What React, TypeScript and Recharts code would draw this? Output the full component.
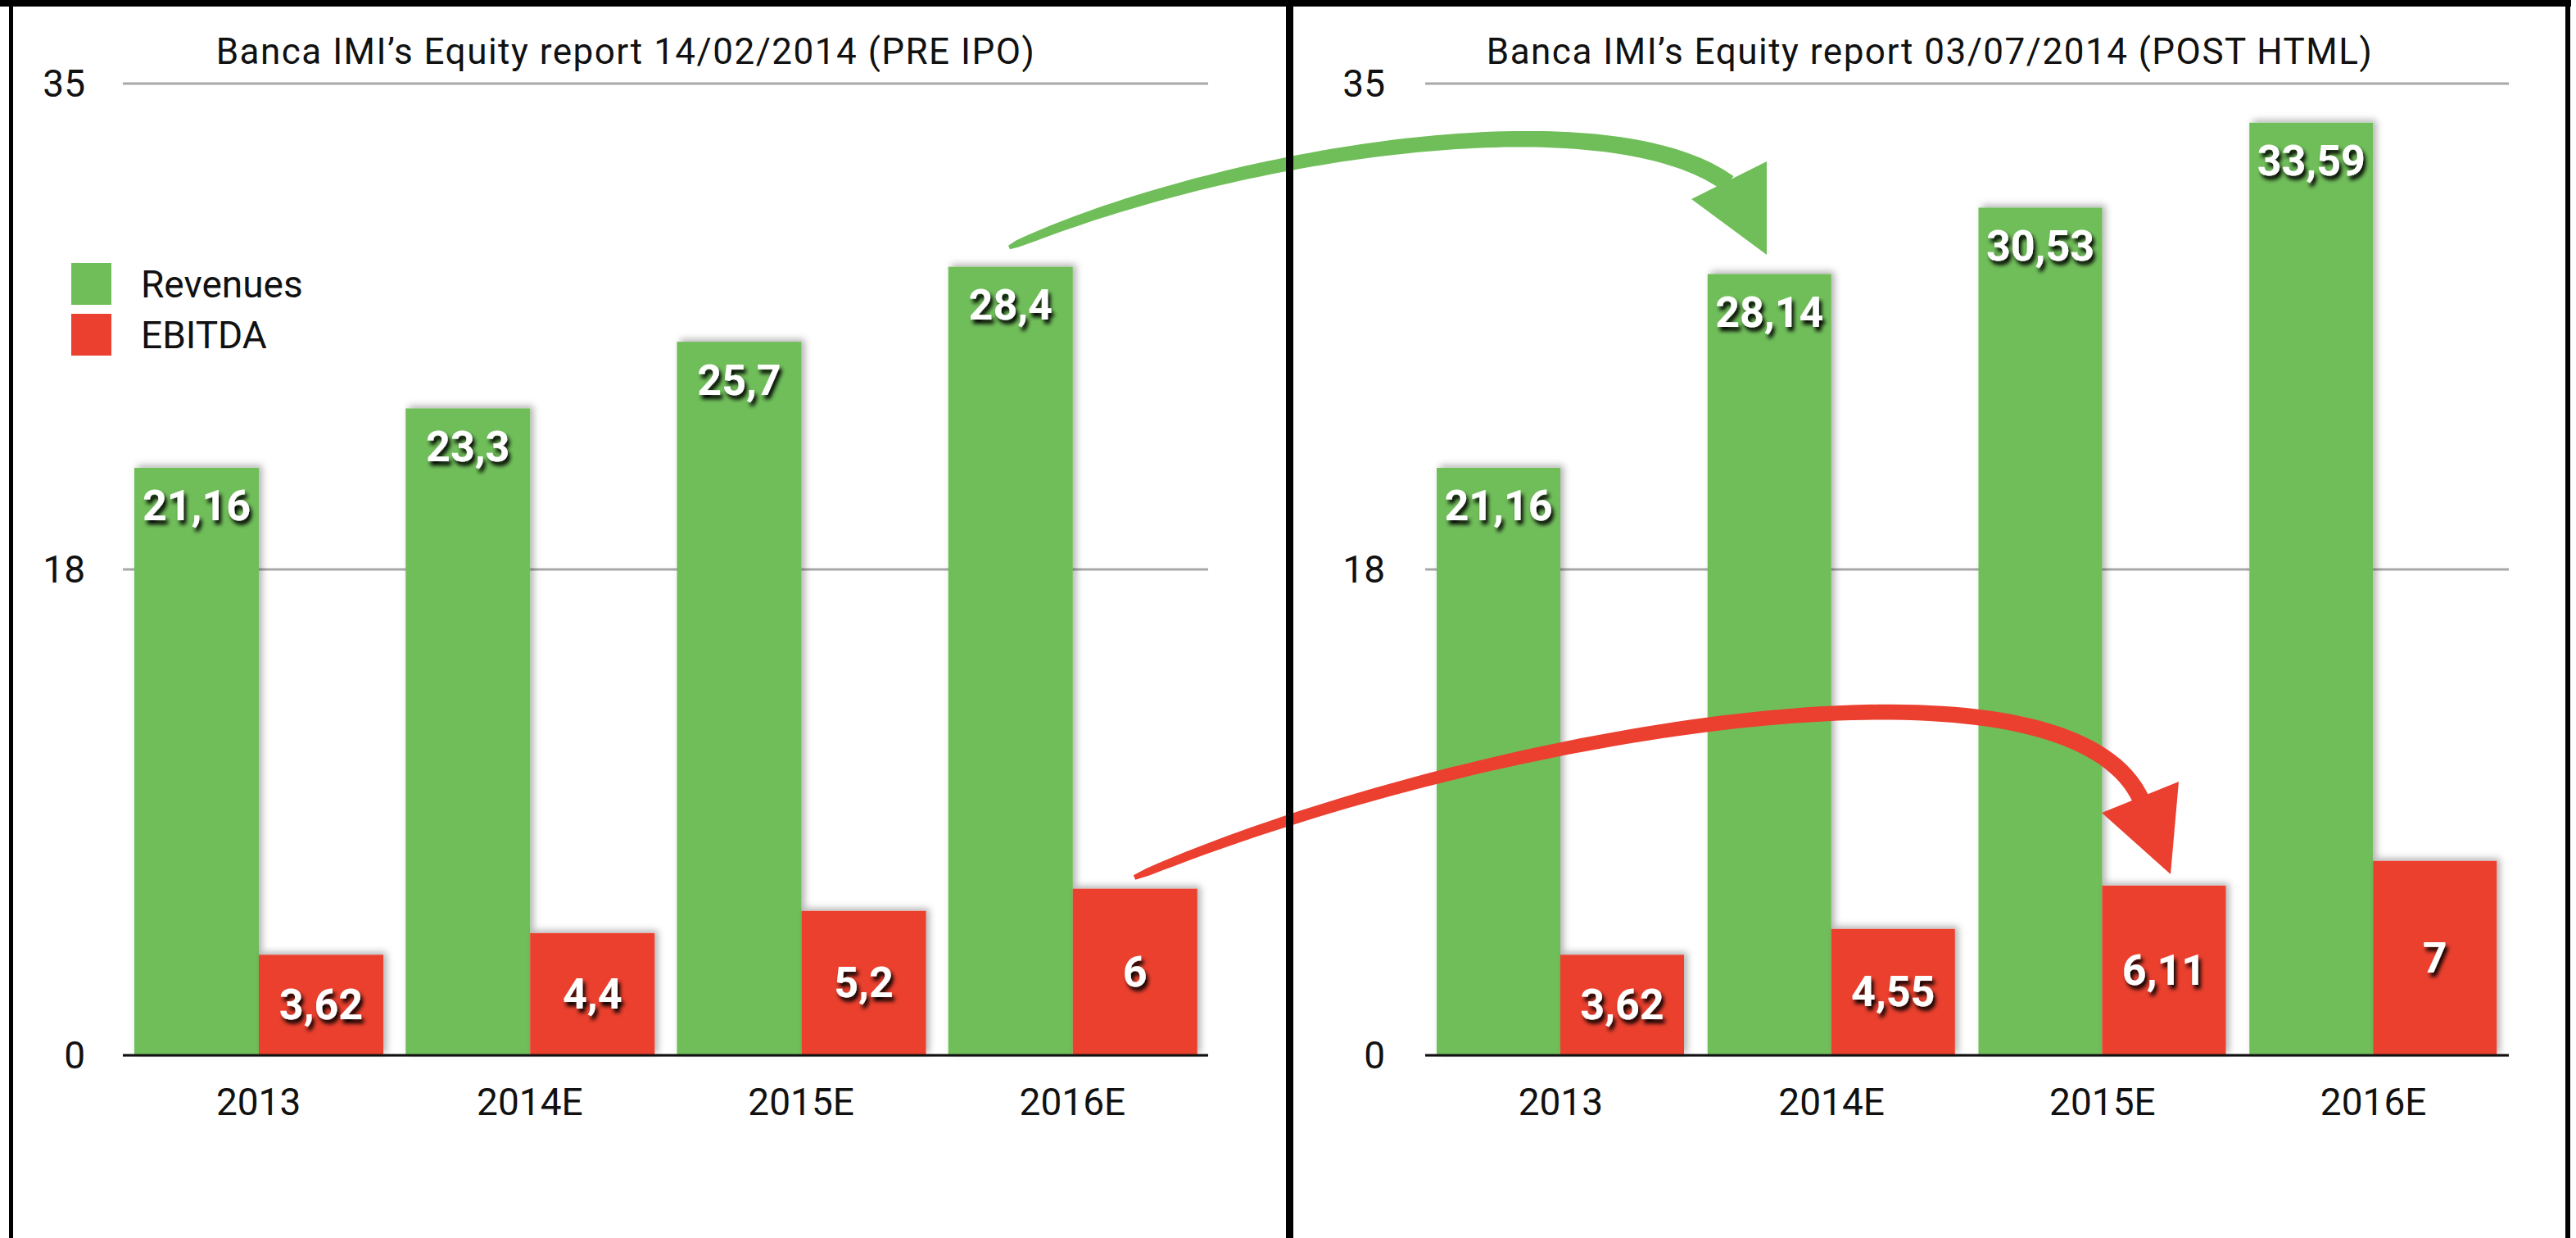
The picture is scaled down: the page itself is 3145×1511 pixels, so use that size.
import React from "react";
import { BarChart, Bar, XAxis, YAxis, CartesianGrid, LabelList } from "recharts";

const GREEN = "#70BE5A";
const RED = "#EB3F2F";
const FONT = "Roboto, 'Open Sans', sans-serif";

const years = ["2013", "2014E", "2015E", "2016E"];
const revenuesPre = [21.16, 23.3, 25.7, 28.4];
const ebitdaPre = [3.62, 4.4, 5.2, 6];
const revenuesPost = [21.16, 28.14, 30.53, 33.59];
const ebitdaPost = [3.62, 4.55, 6.11, 7];
const yTicks = [0, 17.5, 35];

const titlePre = "Banca IMI’s Equity report 14/02/2014 (PRE IPO)";
const titlePost = "Banca IMI’s Equity report 03/07/2014 (POST HTML)";

const toRows = (rev: number[], ebitda: number[]) =>
  years.map((year, i) => ({ year, revenues: rev[i], ebitda: ebitda[i] }));

// italian style decimals
const fmt = (v: number) => String(v).replace(".", ",");

const box = (props: any) => {
  const vb = props.viewBox ?? props;
  return { x: Number(vb.x), y: Number(vb.y), w: Number(vb.width), h: Number(vb.height) };
};

const labelStyle = {
  fill: "#fff",
  fontSize: 52,
  fontWeight: 700,
  fontFamily: FONT,
};

const TopLabel = (props: any) => {
  const { x, y, w } = box(props);
  return (
    <text x={x + w / 2} y={y + 47} textAnchor="middle" dominantBaseline="central" filter="url(#txtShadow)" style={labelStyle}>
      {fmt(props.value)}
    </text>
  );
};

const MidLabel = (props: any) => {
  const { x, y, w, h } = box(props);
  return (
    <text x={x + w / 2} y={y + h / 2} textAnchor="middle" dominantBaseline="central" filter="url(#txtShadow)" style={labelStyle}>
      {fmt(props.value)}
    </text>
  );
};

const ShadowBar = (p: any) => (
  <rect x={p.x} y={p.y} width={p.width} height={p.height} fill={p.fill} filter="url(#barShadow)" />
);

const Panel: React.FC<{
  left: number;
  width: number;
  axisWidth: number;
  labelGap: number;
  rightMargin: number;
  rev: number[];
  ebitda: number[];
}> = ({ left, width, axisWidth, labelGap, rightMargin, rev, ebitda }) => (
  <div style={{ position: "absolute", left, top: 0 }}>
    <BarChart
      width={width}
      height={1511}
      data={toRows(rev, ebitda)}
      margin={{ top: 102, right: rightMargin, bottom: 123, left: 0 }}
      barGap={0}
      barCategoryGap={14}
    >
      <CartesianGrid vertical={false} stroke="#a8a8a8" strokeWidth={3} />
      <XAxis
        dataKey="year"
        height={100}
        interval={0}
        tickLine={false}
        tickSize={0}
        tickMargin={40}
        axisLine={{ stroke: "#111", strokeWidth: 3 }}
        tick={{ fill: "#111", fontSize: 46, fontFamily: FONT }}
      />
      <YAxis
        width={axisWidth}
        domain={[0, 35]}
        ticks={yTicks}
        interval={0}
        tickFormatter={(v: number) => String(Math.round(v))}
        axisLine={false}
        tickLine={false}
        tickSize={0}
        tickMargin={labelGap}
        tick={{ fill: "#111", fontSize: 46, fontFamily: FONT }}
      />
      <Bar dataKey="revenues" name="Revenues" fill={GREEN} shape={ShadowBar} isAnimationActive={false}>
        <LabelList dataKey="revenues" content={TopLabel} />
      </Bar>
      <Bar dataKey="ebitda" name="EBITDA" fill={RED} shape={ShadowBar} isAnimationActive={false}>
        <LabelList dataKey="ebitda" content={MidLabel} />
      </Bar>
    </BarChart>
  </div>
);

// ---- curved arrows (annotation only) ----
type Pt = [number, number];

const bez = (c: Pt[], t: number): Pt => {
  const a = (1 - t) ** 3, b = 3 * t * (1 - t) ** 2, d = 3 * t * t * (1 - t), e = t ** 3;
  return [a * c[0][0] + b * c[1][0] + d * c[2][0] + e * c[3][0], a * c[0][1] + b * c[1][1] + d * c[2][1] + e * c[3][1]];
};
const bezD = (c: Pt[], t: number): Pt => {
  const a = 3 * (1 - t) ** 2, b = 6 * t * (1 - t), d = 3 * t * t;
  return [
    a * (c[1][0] - c[0][0]) + b * (c[2][0] - c[1][0]) + d * (c[3][0] - c[2][0]),
    a * (c[1][1] - c[0][1]) + b * (c[2][1] - c[1][1]) + d * (c[3][1] - c[2][1]),
  ];
};

const shaft = (c: Pt[], w0: number, w1: number) => {
  const up: Pt[] = [];
  const lo: Pt[] = [];
  const n = 80;
  for (let i = 0; i <= n; i++) {
    const t = i / n;
    const [x, y] = bez(c, t);
    const [dx, dy] = bezD(c, t);
    const len = Math.hypot(dx, dy) || 1;
    const nx = -dy / len, ny = dx / len;
    const w = (w0 + (w1 - w0) * Math.pow(t, 0.35)) / 2;
    up.push([x + nx * w, y + ny * w]);
    lo.push([x - nx * w, y - ny * w]);
  }
  const pts = up.concat(lo.reverse());
  return "M" + pts.map((p) => p[0].toFixed(1) + "," + p[1].toFixed(1)).join(" L") + " Z";
};

const greenCurve: Pt[] = [[1232, 302], [1500, 185], [1960, 115], [2110, 224]];
const greenHead: Pt[] = [[2157, 197], [2065, 243], [2157, 311]];
const redCurve: Pt[] = [[1385, 1071], [1800, 895], [2520, 770], [2614, 976]];
const redHead: Pt[] = [[2660, 954], [2566, 992], [2650, 1067]];

const poly = (p: Pt[]) => p.map((q) => q.join(",")).join(" ");

const Overlay = () => (
  <svg width={3145} height={1511} style={{ position: "absolute", left: 0, top: 0, pointerEvents: "none" }}>
    <defs>
      <filter id="txtShadow" x="-20%" y="-30%" width="150%" height="170%">
        <feDropShadow dx="3" dy="5" stdDeviation="2.5" floodColor="#000" floodOpacity="1" />
      </filter>
      <filter id="barShadow" x="-10%" y="-10%" width="125%" height="120%">
        <feDropShadow dx="4" dy="-3" stdDeviation="4" floodColor="#000" floodOpacity="0.3" />
      </filter>
    </defs>
    <text x={764} y={78} textAnchor="middle" fontSize={44} letterSpacing={1.5} fontFamily={FONT} fill="#111">{titlePre}</text>
    <text x={2356} y={78} textAnchor="middle" fontSize={44} letterSpacing={1.5} fontFamily={FONT} fill="#111">{titlePost}</text>

    <rect x={87} y={321} width={49} height={51} fill={GREEN} />
    <rect x={87} y={383} width={49} height={51} fill={RED} />
    <text x={172} y={363} fontSize={46} fontFamily={FONT} fill="#111">Revenues</text>
    <text x={172} y={425} fontSize={46} fontFamily={FONT} fill="#111">EBITDA</text>

    <path d={shaft(greenCurve, 5, 22)} fill={GREEN} />
    <polygon points={poly(greenHead)} fill={GREEN} />
    <path d={shaft(redCurve, 6, 21)} fill={RED} />
    <polygon points={poly(redHead)} fill={RED} />

    <rect x={0} y={0} width={3139} height={8} fill="#000" />
    <rect x={11} y={0} width={5} height={1511} fill="#000" />
    <rect x={1570} y={0} width={9} height={1511} fill="#000" />
    <rect x={3132} y={0} width={6} height={1511} fill="#000" />
  </svg>
);

export default function App() {
  return (
    <div style={{ position: "absolute", left: 0, top: 0, width: 3145, height: 1511, background: "#fff", overflow: "hidden" }}>
      <Panel left={0} width={1570} axisWidth={150} labelGap={46} rightMargin={95} rev={revenuesPre} ebitda={ebitdaPre} />
      <Panel left={1579} width={1566} axisWidth={161} labelGap={49} rightMargin={82} rev={revenuesPost} ebitda={ebitdaPost} />
      <Overlay />
    </div>
  );
}
